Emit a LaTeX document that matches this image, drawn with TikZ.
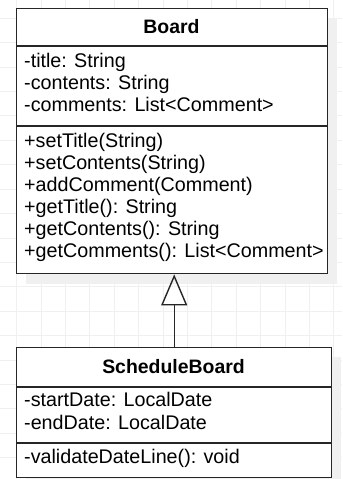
\documentclass[tikz,border=0pt]{standalone}
\usepackage{fontspec}
\setmainfont{Liberation Sans}
\usetikzlibrary{arrows.meta}
\begin{document}
\begin{tikzpicture}[x=1bp,y=-1bp,
  umlbox/.style={draw=black!85,line width=1.4bp,fill=white,rectangle,inner sep=0pt,anchor=north west},
  divider/.style={draw=black!85,line width=1.4bp},
  shadowbox/.style={fill=black!6},
  gridline/.style={draw=black!6,line width=0.8bp},
  txt/.style={anchor=base west,inner sep=0pt,font=\fontsize{19.8}{22}\selectfont},
  ttl/.style={anchor=base,inner sep=0pt,font=\fontsize{19.5}{22}\selectfont\bfseries},
  inherit/.style={draw=black!85,line width=1.4bp,-{Triangle[open,length=31bp,width=26bp]}}]
\useasboundingbox (0,0) rectangle (342,479);
\fill[white] (0,0) rectangle (342,479);
% background grid
\foreach \i in {0,...,13} \draw[gridline] ({16.5+24.4*\i},0) -- ++(0,479);
\foreach \i in {0,...,18} \draw[gridline] (0,{18.3+24.4*\i}) -- ++(342,0);
% shadows
\fill[shadowbox] (26,18) rectangle (337,284);
\fill[shadowbox] (26,357) rectangle (341,479);
% Board
\node[umlbox, minimum width=311bp, minimum height=265bp] (board) at (16,8) {};
\draw[divider] ([yshift=-38bp]board.north west) -- ([yshift=-38bp]board.north east);
\draw[divider] ([yshift=-118bp]board.north west) -- ([yshift=-118bp]board.north east);
\node[ttl] (boardtitle) at (171.5,33.5) {Board};
\node[txt] (ba1) at (24,67.5) {-title: String};
\node[txt] (ba2) at (24,89.5) {-contents: String};
\node[txt] (ba3) at (24,111.5) {-comments: List<Comment>};
\node[txt] (bm1) at (24,147.5) {+setTitle(String)};
\node[txt] (bm2) at (24,169.4) {+setContents(String)};
\node[txt] (bm3) at (24,191.3) {+addComment(Comment)};
\node[txt] (bm4) at (24,213.2) {+getTitle(): String};
\node[txt] (bm5) at (24,235.1) {+getContents(): String};
\node[txt] (bm6) at (24,257.0) {+getComments(): List<Comment>};
% ScheduleBoard
\node[umlbox, minimum width=315bp, minimum height=130bp] (sb) at (16,347) {};
\draw[divider] ([yshift=-40bp]sb.north west) -- ([yshift=-40bp]sb.north east);
\draw[divider] ([yshift=-96bp]sb.north west) -- ([yshift=-96bp]sb.north east);
\node[ttl] (sbtitle) at (173.5,373.5) {ScheduleBoard};
\node[txt] (sa1) at (24,406.5) {-startDate: LocalDate};
\node[txt] (sa2) at (24,429) {-endDate: LocalDate};
\node[txt] (sm1) at (24,463.5) {-validateDateLine(): void};
% generalization
\draw[inherit] (sb.north) -- (sb.north |- board.south);
\end{tikzpicture}
\end{document}
